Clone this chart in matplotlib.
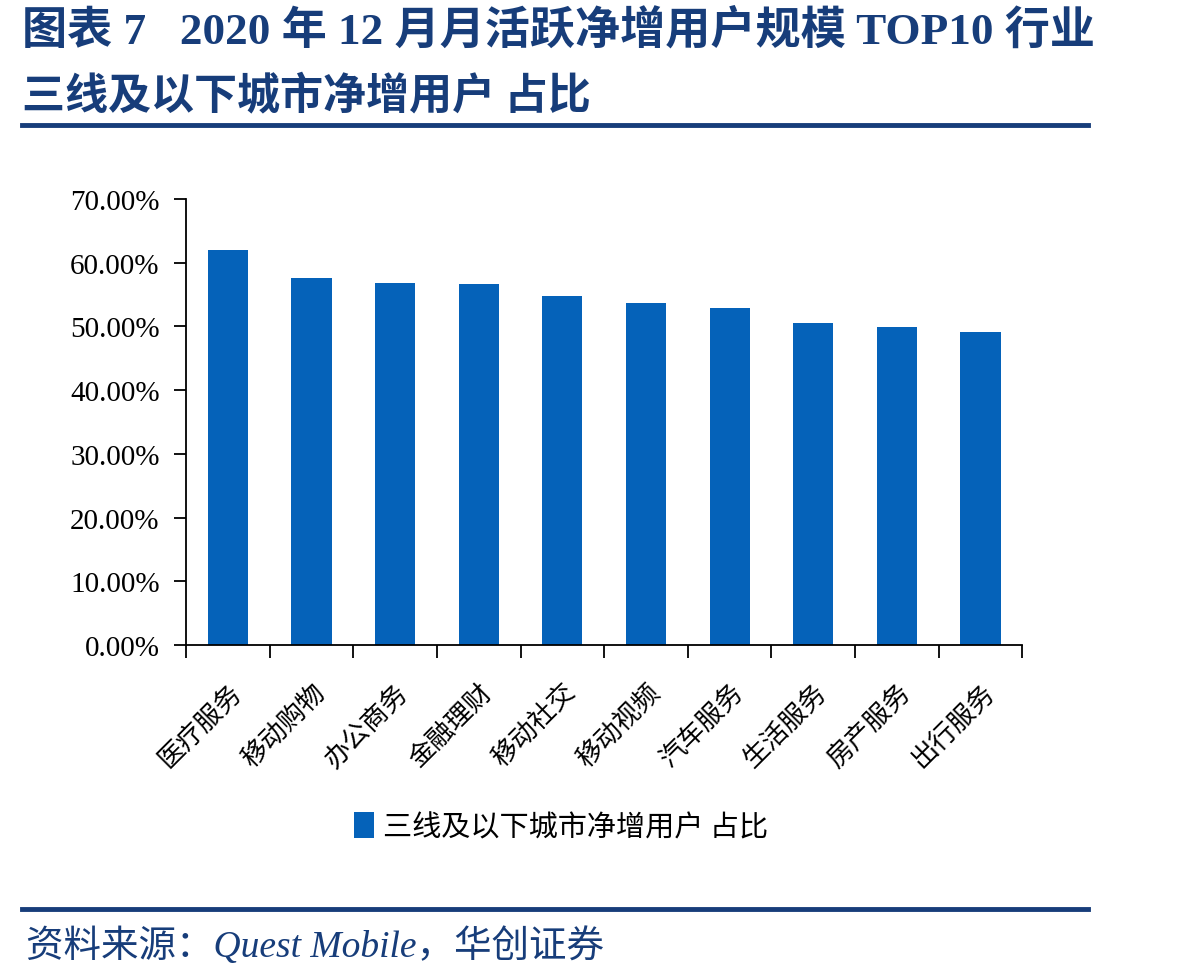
import numpy as np
import matplotlib
matplotlib.use("Agg")
import matplotlib.pyplot as plt
from matplotlib.ticker import FuncFormatter

categories = ["医疗服务", "移动购物", "办公商务", "金融理财", "移动社交",
              "移动视频", "汽车服务", "生活服务", "房产服务", "出行服务"]
share = [62.0, 57.6, 56.8, 56.6, 54.7, 53.6, 52.9, 50.5, 49.9, 49.2]
series_name = "三线及以下城市净增用户 占比"
title_1 = "图表 7   2020 年 12 月月活跃净增用户规模 TOP10 行业"
title_2 = "三线及以下城市净增用户 占比"
source = "资料来源：Quest Mobile，华创证券"

cjk = ["Noto Sans CJK SC", "DejaVu Sans"]
mixed = ["Liberation Serif", "Noto Sans CJK SC"]
navy = "#173d7a"
bar_color = "#0562b9"

fig = plt.figure(figsize=(11.98, 9.78), dpi=100)
ax = fig.add_axes([0.1553, 0.3395, 0.698, 0.456])

x = np.arange(len(categories))
ax.bar(x, share, width=0.48, color=bar_color, label=series_name, zorder=2)

ax.set_ylim(0, 70)
ax.set_yticks(np.arange(0, 71, 10))
ax.yaxis.set_major_formatter(FuncFormatter(lambda v, p: "%.2f%%" % v))
for t in ax.get_yticklabels():
    t.set_family(mixed)
    t.set_fontsize(21)
ax.tick_params(axis="y", direction="out", length=9, width=1.3, pad=10)

ax.set_xlim(-0.5, len(categories) - 0.5)
ax.set_xticks(np.arange(-0.5, len(categories)), minor=False)
ax.set_xticklabels([])
ax.set_xticks(x, minor=True)
ax.set_xticklabels(categories, minor=True, rotation=45, ha="right",
                   rotation_mode="anchor", family=cjk, fontsize=19)
ax.tick_params(axis="x", which="major", direction="out", length=9, width=1.3)
ax.tick_params(axis="x", which="minor", length=0, pad=24)

for s in ["top", "right"]:
    ax.spines[s].set_visible(False)
for s in ["left", "bottom"]:
    ax.spines[s].set_linewidth(1.3)
    ax.spines[s].set_color("black")

fig.legend(loc="center", bbox_to_anchor=(0.468, 0.153), frameon=False,
           prop={"family": cjk, "size": 21}, handlelength=0.7,
           handleheight=1.0, handletextpad=0.3)

fig.text(0.018, 0.969, title_1, family=mixed, fontsize=32.5, fontweight="bold",
         color=navy, va="center", ha="left")
fig.text(0.018, 0.903, title_2, family=cjk, fontsize=31, fontweight="bold",
         color=navy, va="center", ha="left")
fig.add_artist(plt.Line2D([0.018, 0.908], [0.871, 0.871], color=navy, lw=3.5,
                          transform=fig.transFigure))
fig.add_artist(plt.Line2D([0.018, 0.908], [0.070, 0.070], color=navy, lw=3.5,
                          transform=fig.transFigure))
fig.text(0.022, 0.033, source, family=mixed, fontsize=27, style="italic",
         color=navy, va="center", ha="left")

fig.savefig("out.png", dpi=100)
